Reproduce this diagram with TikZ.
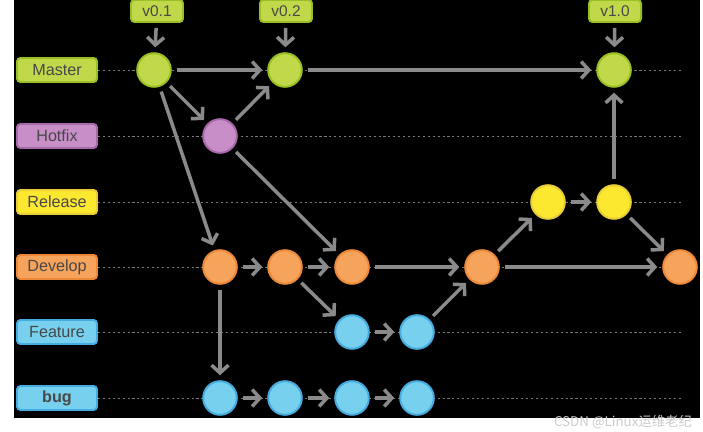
\documentclass[tikz,border=0pt]{standalone}
\usepackage{fontspec}
\setmainfont{Liberation Sans}
\newfontfamily\cjk{Noto Sans CJK SC}
\usetikzlibrary{arrows.meta}
\definecolor{fillmaster}{RGB}{192,216,74}
\definecolor{linemaster}{RGB}{152,192,36}
\definecolor{fillhotfix}{RGB}{200,142,200}
\definecolor{linehotfix}{RGB}{168,104,172}
\definecolor{fillrelease}{RGB}{253,232,48}
\definecolor{linerelease}{RGB}{232,204,58}
\definecolor{filldevelop}{RGB}{246,163,91}
\definecolor{linedevelop}{RGB}{236,136,56}
\definecolor{fillfeature}{RGB}{118,208,238}
\definecolor{linefeature}{RGB}{70,172,224}
\definecolor{textgray}{RGB}{72,72,72}
\definecolor{arrowgray}{RGB}{138,138,138}
\definecolor{lanegray}{RGB}{120,120,120}
\begin{document}
\begin{tikzpicture}[x=0.025cm, y=-0.025cm,
	commit/.style={circle, minimum size=0.84cm, inner sep=0pt, line width=1.4pt},
	branch/.style={rectangle, rounded corners=2.5pt, minimum width=2cm, minimum height=0.6cm, inner sep=0pt, line width=1.4pt, text=textgray, font=\fontsize{11.5}{13}\selectfont},
	tag/.style={branch, minimum width=1.3cm, minimum height=0.55cm, font=\fontsize{11}{12}\selectfont},
	flow/.style={draw=arrowgray, line width=2.5pt, -{Straight Barb[length=5.5pt,width=12pt]}, shorten <=3.5pt, shorten >=3.5pt},
	lane/.style={draw=lanegray, line width=0.7pt, dash pattern=on 1.5pt off 2pt}]
	\useasboundingbox (0,0) rectangle (703,432);
	\fill[white] (0,0) rectangle (703,432);
	\fill[black] (14,0) rectangle (700,418);
	% branch labels and their lanes
	\foreach \name/\y/\c/\txt in {Master/70/master/Master, Hotfix/136/hotfix/Hotfix, Release/202/release/Release, Develop/267/develop/Develop, Feature/332/feature/Feature, Bug/398/feature/\textbf{bug}}{
		\node[branch, fill=fill\c, draw=line\c] (l\name) at (57,\y) {\txt};
		\draw[lane] (l\name.east) -- (683,\y);
	}
	% commits
	\node[commit, fill=fillmaster, draw=linemaster] (m1) at (154,70) {};
	\node[commit, fill=fillmaster, draw=linemaster] (m2) at (285,70) {};
	\node[commit, fill=fillmaster, draw=linemaster] (m3) at (614,70) {};
	\node[commit, fill=fillhotfix, draw=linehotfix] (h1) at (220,136) {};
	\node[commit, fill=fillrelease, draw=linerelease] (r1) at (548,202) {};
	\node[commit, fill=fillrelease, draw=linerelease] (r2) at (614,202) {};
	\foreach \i/\x in {1/220,2/285,3/352,4/482,5/680}{
		\node[commit, fill=filldevelop, draw=linedevelop] (d\i) at (\x,267) {};
	}
	\node[commit, fill=fillfeature, draw=linefeature] (f1) at (352,332) {};
	\node[commit, fill=fillfeature, draw=linefeature] (f2) at (417,332) {};
	\foreach \i/\x in {1/220,2/285,3/352,4/417}{
		\node[commit, fill=fillfeature, draw=linefeature] (b\i) at (\x,398) {};
	}
	% tags
	\node[tag, fill=fillmaster, draw=linemaster] (t1) at (157,11) {v0.1};
	\node[tag, fill=fillmaster, draw=linemaster] (t2) at (286,11) {v0.2};
	\node[tag, fill=fillmaster, draw=linemaster] (t3) at (615,11) {v1.0};
	\draw[flow] (t1) -- (m1);
	\draw[flow] (t2) -- (m2);
	\draw[flow] (t3) -- (m3);
	% history
	\draw[flow] (m1) -- (m2);
	\draw[flow] (m2) -- (m3);
	\draw[flow] (m1) -- (h1);
	\draw[flow] (m1) -- (d1);
	\draw[flow] (h1) -- (m2);
	\draw[flow] (h1) -- (d3);
	\draw[flow] (d1) -- (d2);
	\draw[flow] (d2) -- (d3);
	\draw[flow] (d3) -- (d4);
	\draw[flow] (d4) -- (d5);
	\draw[flow] (d2) -- (f1);
	\draw[flow] (f1) -- (f2);
	\draw[flow] (f2) -- (d4);
	\draw[flow] (d4) -- (r1);
	\draw[flow] (r1) -- (r2);
	\draw[flow] (r2) -- (m3);
	\draw[flow] (r2) -- (d5);
	\draw[flow] (d1) -- (b1);
	\draw[flow] (b1) -- (b2);
	\draw[flow] (b2) -- (b3);
	\draw[flow] (b3) -- (b4);
	\node[text=gray!40, font=\cjk\fontsize{9.5}{11}\selectfont] (wm) at (623,422) {CSDN @Linux运维老纪};
\end{tikzpicture}
\end{document}
